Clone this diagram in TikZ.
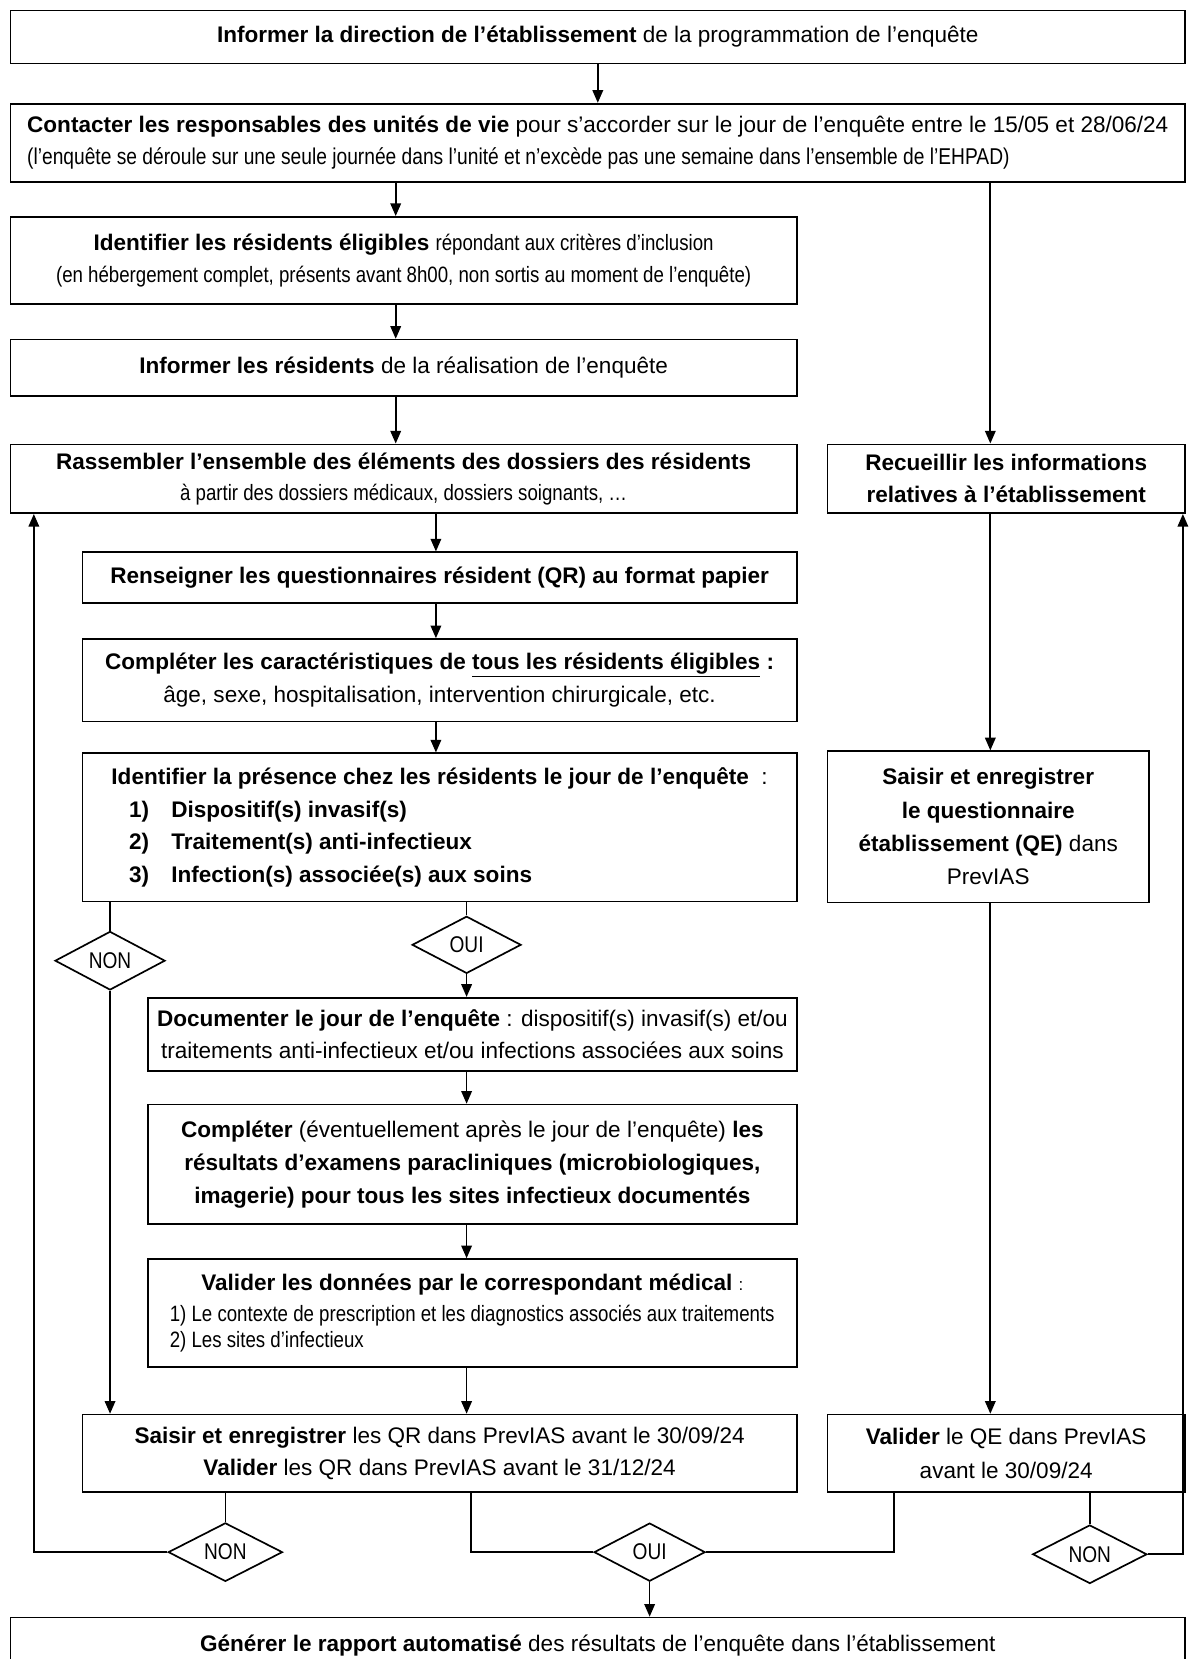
\documentclass[tikz,border=0pt]{standalone}
\usepackage{fontspec}
\setmainfont{Liberation Sans}
\newfontfamily\narrowfont{Liberation Sans}[FakeStretch=0.84]
\usetikzlibrary{arrows.meta,shapes.geometric}
\begin{document}
\begin{tikzpicture}[x=1pt,y=-1pt,
  box/.style={draw, line width=1.6pt, inner sep=0pt, align=center, font=\fontsize{21.3}{31}\selectfont},
  dia/.style={draw, diamond, line width=1.6pt, inner sep=0pt, font=\narrowfont\fontsize{21.5}{21.5}\selectfont},
  arr/.style={line width=1.6pt, -{Triangle[length=12pt,width=10pt]}},
  ln/.style={line width=1.6pt}]
\fill[white] (0,0) rectangle (1125,1568);
\useasboundingbox (0,0) rectangle (1125,1568);
\newcommand{\nw}[1]{{\narrowfont\fontsize{21}{21}\selectfont #1}}
\newcommand{\nwl}[1]{{\narrowfont\fontsize{21.6}{21.6}\selectfont #1}}
% helper coordinates for connector abscissas
\coordinate (x32) at (32,0);
\coordinate (x374) at (374,0);
\coordinate (x412) at (412,0);
\coordinate (x441) at (441,0);
\coordinate (x445) at (445,0);
\coordinate (x845) at (845,0);
\coordinate (x936) at (936,0);
\coordinate (x1118) at (1118,0);

\node[box, minimum width=1110pt, minimum height=50pt] (b1) at (565,35)
  {\textbf{Informer la direction de l’établissement} de la programmation de l’enquête};
\node[box, align=left, minimum width=1110pt, minimum height=74pt, font=\fontsize{21.3}{30}\selectfont] (b2) at (565,135)
  {\textbf{Contacter les responsables des unités de vie} pour s’accorder sur le jour de l’enquête entre le 15/05 et 28/06/24\\
   \nwl{(l’enquête se déroule sur une seule journée dans l’unité et n’excède pas une semaine dans l’ensemble de l’EHPAD)}};
\node[box, minimum width=743pt, minimum height=82pt, font=\fontsize{21.3}{30}\selectfont] (b3) at (381.5,246)
  {\textbf{Identifier les résidents éligibles} \nw{répondant aux critères d’inclusion}\\
   \nw{(en hébergement complet, présents avant 8h00, non sortis au moment de l’enquête)}};
\node[box, minimum width=743pt, minimum height=53pt] (b4) at (381.5,347.5)
  {\textbf{Informer les résidents} de la réalisation de l’enquête};
\node[box, minimum width=743pt, minimum height=65pt, font=\fontsize{21.3}{29}\selectfont] (b5) at (381.5,452.5)
  {\textbf{Rassembler l’ensemble des éléments des dossiers des résidents}\\
   \nw{à partir des dossiers médicaux, dossiers soignants, …}};
\node[box, minimum width=338pt, minimum height=65pt, font=\fontsize{21.3}{30}\selectfont] (rec) at (951,452.5)
  {\textbf{Recueillir les informations}\\ \textbf{relatives à l’établissement}};
\node[box, minimum width=675pt, minimum height=48pt] (b6) at (415.5,546)
  {\textbf{Renseigner les questionnaires résident (QR) au format papier}};
\node[box, minimum width=675pt, minimum height=78pt] (b7) at (415.5,643)
  {\textbf{Compléter les caractéristiques de \underline{tous les résidents éligibles} :}\\
   âge, sexe, hospitalisation, intervention chirurgicale, etc.};
\node[box, minimum width=675pt, minimum height=140pt] (b8) at (415.5,782)
  {\textbf{Identifier la présence chez les résidents le jour de l’enquête}\ \ :\\
   \makebox[587pt][l]{\textbf{\makebox[40pt][l]{1)}Dispositif(s) invasif(s)}}\\
   \makebox[587pt][l]{\textbf{\makebox[40pt][l]{2)}Traitement(s) anti-infectieux}}\\
   \makebox[587pt][l]{\textbf{\makebox[40pt][l]{3)}Infection(s) associée(s) aux soins}}};
\node[box, minimum width=304pt, minimum height=143pt, font=\fontsize{21.3}{31.5}\selectfont] (sq) at (934,781.5)
  {\textbf{Saisir et enregistrer}\\ \textbf{le questionnaire}\\ \textbf{établissement (QE)} dans\\ PrevIAS};

\node[dia, minimum width=104pt, minimum height=50pt] (non1) at (104,908) {NON};
\node[dia, minimum width=103pt, minimum height=54pt] (oui1) at (441,893) {OUI};

\node[box, minimum width=613pt, minimum height=69pt] (b9) at (446.5,977.5)
  {\textbf{Documenter le jour de l’enquête} : dispositif(s) invasif(s) et/ou\\
   traitements anti-infectieux et/ou infections associées aux soins};
\node[box, minimum width=613pt, minimum height=113pt] (b10) at (446.5,1100.5)
  {\textbf{Compléter} (éventuellement après le jour de l’enquête) \textbf{les}\\
   \textbf{résultats d’examens paracliniques (microbiologiques,}\\
   \textbf{imagerie) pour tous les sites infectieux documentés}};
\node[box, minimum width=613pt, minimum height=102pt, font=\fontsize{21.3}{25}\selectfont] (b11) at (446.5,1241)
  {\textbf{Valider les données par le correspondant médical} {\fontsize{16}{16}\selectfont:}\\[4pt]
   \makebox[572pt][l]{\nw{1) Le contexte de prescription et les diagnostics associés aux traitements}}\\
   \makebox[572pt][l]{\nw{2) Les sites d’infectieux}}};
\node[box, minimum width=675pt, minimum height=73pt, font=\fontsize{21.3}{30}\selectfont] (b12) at (415.5,1373.5)
  {\textbf{Saisir et enregistrer} les QR dans PrevIAS avant le 30/09/24\\
   \textbf{Valider} les QR dans PrevIAS avant le 31/12/24};
\node[box, minimum width=338pt, minimum height=73pt, font=\fontsize{21.3}{32}\selectfont] (vqe) at (951,1373.5)
  {\textbf{Valider} le QE dans PrevIAS\\ avant le 30/09/24};

\node[dia, minimum width=108pt, minimum height=55pt] (non2) at (213,1467) {NON};
\node[dia, minimum width=105pt, minimum height=55pt] (oui2) at (614,1467) {OUI};
\node[dia, minimum width=108pt, minimum height=54pt] (non3) at (1030,1469) {NON};

\node[box, anchor=north, minimum width=1110pt, text height=15pt, text depth=60pt, inner ysep=17pt] (fin) at (565,1528)
  {\textbf{Générer le rapport automatisé} des résultats de l’enquête dans l’établissement};

% connectors
\draw[arr] (b1) -- (b2);
\draw[arr] (b2.south -| x374) -- (b3.north -| x374);
\draw[arr] (b2.south -| x936) -- (rec.north -| x936);
\draw[arr] (b3.south -| x374) -- (b4.north -| x374);
\draw[arr] (b4.south -| x374) -- (b5.north -| x374);
\draw[arr] (b5.south -| x412) -- (b6.north -| x412);
\draw[arr] (b6.south -| x412) -- (b7.north -| x412);
\draw[arr] (b7.south -| x412) -- (b8.north -| x412);
\draw[ln] (b8.south -| non1) -- (non1.north);
\draw[arr] (non1.south) -- (b12.north -| non1);
\draw[ln] (b8.south -| oui1) -- (oui1.north);
\draw[arr] (oui1.south) -- (b9.north -| oui1);
\draw[arr] (b9.south -| x441) -- (b10.north -| x441);
\draw[arr] (b10.south -| x441) -- (b11.north -| x441);
\draw[arr] (b11.south -| x441) -- (b12.north -| x441);
\draw[arr] (rec.south -| x936) -- (sq.north -| x936);
\draw[arr] (sq.south -| x936) -- (vqe.north -| x936);
\draw[ln] (b12.south -| non2) -- (non2.north);
\draw[arr] (non2.west) -| (b5.south -| x32);
\draw[ln] (b12.south -| x445) |- (oui2.west);
\draw[ln] (vqe.south -| x845) |- (oui2.east);
\draw[arr] (oui2.south) -- (fin.north -| oui2);
\draw[ln] (vqe.south -| non3) -- (non3.north);
\draw[arr] (non3.east) -| (rec.south -| x1118);
\end{tikzpicture}
\end{document}
